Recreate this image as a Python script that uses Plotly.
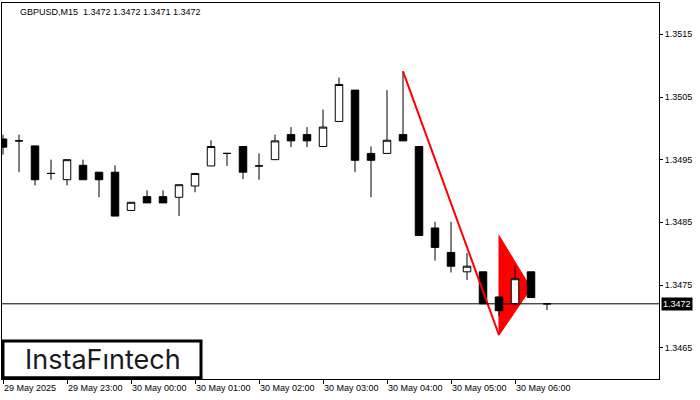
import plotly.graph_objects as go

# ---- data -------------------------------------------------------------
times = [
    "2025-05-29 22:00", "2025-05-29 22:15", "2025-05-29 22:30", "2025-05-29 22:45",
    "2025-05-29 23:00", "2025-05-29 23:15", "2025-05-29 23:30", "2025-05-29 23:45",
    "2025-05-30 00:00", "2025-05-30 00:15", "2025-05-30 00:30", "2025-05-30 00:45",
    "2025-05-30 01:00", "2025-05-30 01:15", "2025-05-30 01:30", "2025-05-30 01:45",
    "2025-05-30 02:00", "2025-05-30 02:15", "2025-05-30 02:30", "2025-05-30 02:45",
    "2025-05-30 03:00", "2025-05-30 03:15", "2025-05-30 03:30", "2025-05-30 03:45",
    "2025-05-30 04:00", "2025-05-30 04:15", "2025-05-30 04:30", "2025-05-30 04:45",
    "2025-05-30 05:00", "2025-05-30 05:15", "2025-05-30 05:30", "2025-05-30 05:45",
    "2025-05-30 06:00", "2025-05-30 06:15", "2025-05-30 06:30",
]
opens = [1.34983, 1.34980, 1.34972, 1.34928, 1.34918, 1.34941, 1.34930, 1.34930,
         1.34869, 1.34891, 1.34891, 1.34890, 1.34908, 1.34940, 1.34960, 1.34971,
         1.34940, 1.34950, 1.34990, 1.34990, 1.34971, 1.35011, 1.35061, 1.34960,
         1.34960, 1.34990, 1.34971, 1.34841, 1.34802, 1.34771, 1.34771, 1.34731,
         1.34720, 1.34771, 1.34720]
highs = [1.34990, 1.34990, 1.34972, 1.34950, 1.34950, 1.34950, 1.34930, 1.34941,
         1.34882, 1.34901, 1.34901, 1.34910, 1.34928, 1.34981, 1.34960, 1.34971,
         1.34960, 1.34990, 1.35002, 1.35002, 1.35030, 1.35081, 1.35061, 1.34971,
         1.35061, 1.35091, 1.34971, 1.34851, 1.34851, 1.34801, 1.34771, 1.34731,
         1.34781, 1.34771, 1.34720]
lows = [1.34958, 1.34930, 1.34909, 1.34918, 1.34909, 1.34918, 1.34890, 1.34860,
        1.34869, 1.34881, 1.34881, 1.34860, 1.34898, 1.34940, 1.34940, 1.34919,
        1.34918, 1.34950, 1.34970, 1.34970, 1.34971, 1.35011, 1.34930, 1.34890,
        1.34960, 1.34980, 1.34829, 1.34789, 1.34770, 1.34758, 1.34720, 1.34700,
        1.34720, 1.34730, 1.34710]
closes = [1.34970, 1.34980, 1.34918, 1.34928, 1.34950, 1.34918, 1.34918, 1.34860,
          1.34882, 1.34881, 1.34881, 1.34910, 1.34928, 1.34971, 1.34960, 1.34930,
          1.34940, 1.34980, 1.34980, 1.34980, 1.35002, 1.35070, 1.34949, 1.34949,
          1.34981, 1.34980, 1.34829, 1.34810, 1.34780, 1.34780, 1.34720, 1.34709,
          1.34760, 1.34730, 1.34720]

current_price = 1.3472
title_text = "GBPUSD,M15\u00a0\u00a01.3472 1.3472 1.3471 1.3472"

# pattern: flagpole line and pennant triangle
pole_times = ["2025-05-30 04:15", "2025-05-30 05:45"]
pole_prices = [1.35091, 1.34670]
pennant_times = ["2025-05-30 05:45", "2025-05-30 06:15", "2025-05-30 05:45"]
pennant_prices = [1.34829, 1.34745, 1.34670]

y_ticks = [1.3465, 1.3475, 1.3485, 1.3495, 1.3505, 1.3515]
x_ticktimes = ["2025-05-29 22:00", "2025-05-29 23:00", "2025-05-30 00:00", "2025-05-30 01:00",
               "2025-05-30 02:00", "2025-05-30 03:00", "2025-05-30 04:00", "2025-05-30 05:00",
               "2025-05-30 06:00"]
x_ticktext = ["29 May 2025", "29 May 23:00", "30 May 00:00", "30 May 01:00",
              "30 May 02:00", "30 May 03:00", "30 May 04:00", "30 May 05:00",
              "30 May 06:00"]

FONT = "Liberation Sans"

# bar index positions (MT4-style: one slot per bar)
xi = list(range(len(times)))
pos = {t: i for i, t in enumerate(times)}

fig = go.Figure()

fig.add_trace(go.Candlestick(
    x=xi, open=opens, high=highs, low=lows, close=closes,
    increasing=dict(fillcolor="#ffffff", line=dict(color="#000000", width=1)),
    decreasing=dict(fillcolor="#000000", line=dict(color="#000000", width=1)),
    whiskerwidth=0, showlegend=False, hoverinfo="skip",
))

# flagpole line (above candles)
fig.add_trace(go.Scatter(
    x=[pos[t] for t in pole_times], y=pole_prices, mode="lines",
    line=dict(color="#ff0000", width=2), hoverinfo="skip", showlegend=False,
))

pennant_path = "M " + " L ".join(
    f"{pos[t]},{p}" for t, p in zip(pennant_times, pennant_prices)) + " Z"

fig.update_layout(
    width=700, height=400,
    margin=dict(l=2, r=41, t=3, b=21),
    paper_bgcolor="#ffffff", plot_bgcolor="#ffffff",
    boxgap=0.33,
    showlegend=False,
    font=dict(family=FONT, size=9, color="#000000"),
    xaxis=dict(
        range=[-0.0625, 41.0],
        rangeslider=dict(visible=False),
        showgrid=False, zeroline=False,
        showline=True, linecolor="#000000", linewidth=1, mirror=True,
        ticks="outside", ticklen=4, tickcolor="#000000", tickwidth=1,
        tickmode="array", tickvals=[pos[t] for t in x_ticktimes], ticktext=x_ticktext,
        ticklabelposition="outside right",
        tickfont=dict(family=FONT, size=9, color="#000000"),
    ),
    yaxis=dict(
        side="right",
        range=[1.3460, 1.3520],
        showgrid=False, zeroline=False,
        showline=True, linecolor="#000000", linewidth=1, mirror=True,
        ticks="outside", ticklen=3, tickcolor="#000000", tickwidth=1,
        tickmode="array", tickvals=y_ticks,
        ticktext=[f"{v:.4f}" for v in y_ticks],
        tickfont=dict(family=FONT, size=9, color="#000000"),
    ),
    shapes=[
        dict(type="path", xref="x", yref="y", path=pennant_path,
             fillcolor="#ff0000", line=dict(color="#ff0000", width=1), layer="below"),
        dict(type="line", xref="paper", yref="y", x0=0, x1=1,
             y0=current_price, y1=current_price,
             line=dict(color="#000000", width=1), layer="above"),
        dict(type="rect", xref="paper", yref="paper",
             x0=0.0015, x1=0.3029, y0=0.003, y1=0.101,
             line=dict(color="#000000", width=3), fillcolor="#ffffff", layer="above"),
    ],
    annotations=[
        dict(xref="paper", yref="paper", x=0, y=1, xshift=16, yshift=-2,
             xanchor="left", yanchor="top", showarrow=False,
             text=title_text, font=dict(family=FONT, size=9, color="#000000")),
        dict(xref="paper", yref="y", x=1, y=current_price, xshift=2,
             xanchor="left", yanchor="middle", showarrow=False,
             text=f"{current_price:.4f}", bgcolor="#000000", borderpad=1,
             font=dict(family=FONT, size=9, color="#ffffff")),
        dict(xref="paper", yref="paper", x=0.1536, y=0.052,
             xanchor="center", yanchor="middle", showarrow=False,
             text="InstaF\u0131ntech",
             font=dict(family="Inter", size=27, color="#1a1a1a", weight=400)),
    ],
)

fig.write_html("out.html", config={"displayModeBar": False},
               post_script="document.body.style.margin='0';")
